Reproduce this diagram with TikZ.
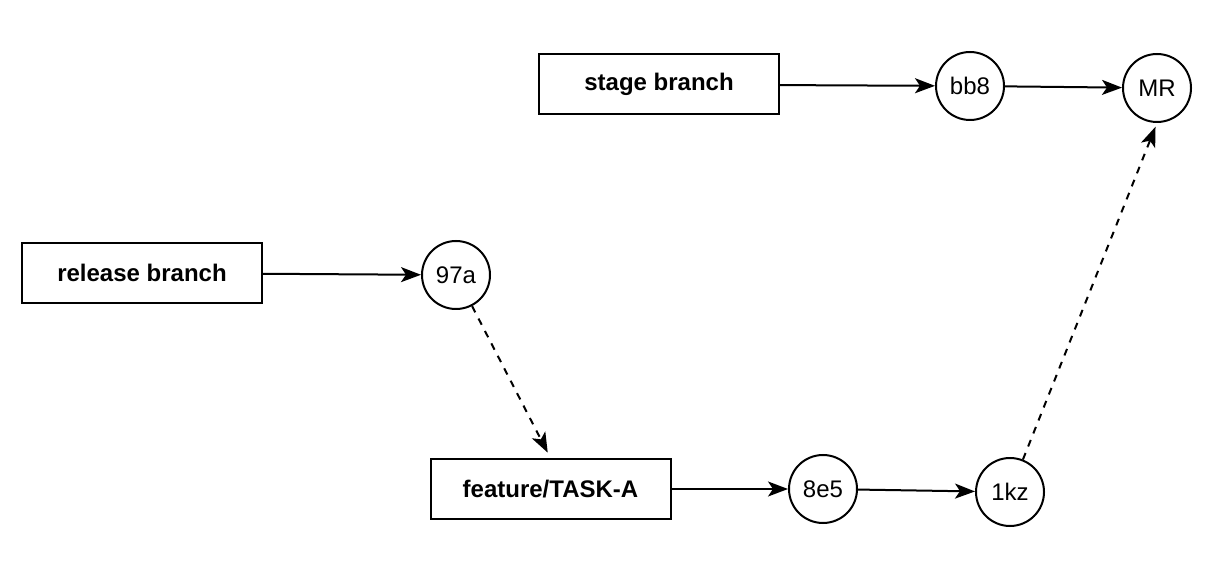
\documentclass[tikz,border=0pt]{standalone}
\usepackage{fontspec}
\setmainfont{Liberation Sans}
\usetikzlibrary{arrows.meta, positioning}

\begin{document}
\begin{tikzpicture}[
    x=0.5pt, y=-0.5pt,
    branch/.style={draw, line width=1pt, minimum width=120pt, minimum height=30pt, align=center, font=\fontsize{12}{14}\selectfont\bfseries},
    commit/.style={draw, circle, line width=1pt, minimum size=34pt, inner sep=0pt, font=\fontsize{12}{14}\selectfont},
    arrow/.style={-{Stealth[length=10pt, width=7.5pt, inset=2.5pt]}, line width=1pt},
    merge/.style={arrow, dash pattern=on 3.5pt off 3.5pt}
]
    \useasboundingbox (0,0) rectangle (1220,566);
    \node[branch] (stage) at (659,84.5) {stage branch};
    \node[branch] (release) at (142,273) {release branch};
    \node[branch] (feature) at (550.5,489) {feature/TASK-A};
    \node[commit] (bb8) at (970,86) {bb8};
    \node[commit] (mr) at (1157,88) {MR};
    \node[commit] (97a) at (456,275) {97a};
    \node[commit] (8e5) at (823,489) {8e5};
    \node[commit] (1kz) at (1010,492) {1kz};

    \draw[arrow] (stage) -- (bb8);
    \draw[arrow] (bb8) -- (mr);
    \draw[arrow] (release) -- (97a);
    \draw[merge, shorten >=3pt] (97a) -- (feature.north);
    \draw[arrow] (feature) -- (8e5);
    \draw[arrow] (8e5) -- (1kz);
    \draw[merge, shorten >=2pt] (1kz) -- (mr.south);
\end{tikzpicture}
\end{document}
